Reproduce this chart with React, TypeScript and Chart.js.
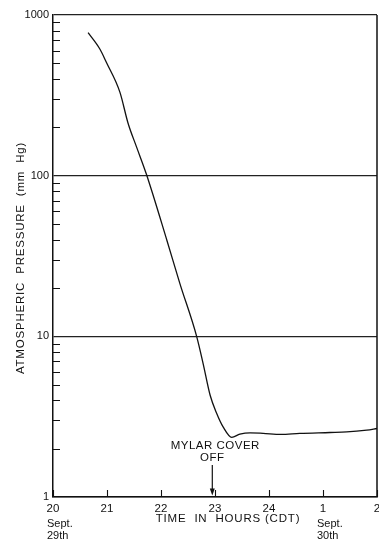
import { useEffect, useRef } from "react";
import { Chart, registerables } from "chart.js";

Chart.register(...registerables);

// Chamber pressure record, evening of Sept. 29th into Sept. 30th
const hours = [
  20.65, 20.87, 20.99, 21.24, 21.39, 21.55, 21.73, 22.11, 22.35, 22.66, 22.78,
  22.91, 23.03, 23.15, 23.31, 23.46, 23.65, 23.89, 24.22, 24.57, 25.13, 25.44,
  25.81, 26.0,
];
const pressure = [
  776, 612, 506, 330, 212, 150, 102, 39.5, 21.3, 10, 6.77, 4.3, 3.32, 2.73,
  2.35, 2.46, 2.51, 2.49, 2.45, 2.49, 2.52, 2.54, 2.61, 2.67,
];

const xTickValues = [20, 21, 22, 23, 24, 25, 26];
const xTickLabels = ["20", "21", "22", "23", "24", "1", "2"];
const yMajorValues = [1, 10, 100, 1000];
const yMinorValues = [
  2, 3, 4, 5, 6, 7, 8, 9, 20, 30, 40, 50, 60, 70, 80, 90, 200, 300, 400, 500,
  600, 700, 800, 900,
];
const dateLabels = [
  { hour: 20, lines: ["Sept.", "29th"] },
  { hour: 25, lines: ["Sept.", "30th"] },
];
const coverOffHour = 22.95;
const arrowFrom = 1.58;
const arrowTo = 1.02;
const coverOffText = ["MYLAR COVER", "OFF"];
const xTitle = "TIME  IN  HOURS (CDT)";
const yTitle = "ATMOSPHERIC  PRESSURE  (mm  Hg)";

const FONT = '"Liberation Sans", Arial, sans-serif';

const decorations = {
  id: "decorations",
  afterDraw(chart: any) {
    const { ctx, chartArea } = chart;
    const xs = chart.scales.x;
    const ys = chart.scales.y;
    ctx.save();
    ctx.strokeStyle = "#111";
    ctx.fillStyle = "#111";

    // right frame edge
    ctx.lineWidth = 1.5;
    ctx.beginPath();
    ctx.moveTo(chartArea.right, chartArea.top);
    ctx.lineTo(chartArea.right, chartArea.bottom);
    ctx.stroke();

    // inward minor ticks on the pressure axis
    ctx.lineWidth = 1.1;
    ctx.beginPath();
    for (const v of yMinorValues) {
      const y = Math.round(ys.getPixelForValue(v)) + 0.5;
      ctx.moveTo(chartArea.left, y);
      ctx.lineTo(chartArea.left + 7, y);
    }
    // inward hour ticks
    for (const h of xTickValues) {
      const x = Math.round(xs.getPixelForValue(h)) + 0.5;
      ctx.moveTo(x, chartArea.bottom);
      ctx.lineTo(x, chartArea.bottom - 7);
    }
    ctx.stroke();

    // cover-off arrow
    const ax = xs.getPixelForValue(coverOffHour);
    const ay0 = ys.getPixelForValue(arrowFrom);
    const ay1 = ys.getPixelForValue(arrowTo);
    ctx.lineWidth = 1.2;
    ctx.beginPath();
    ctx.moveTo(ax, ay0);
    ctx.lineTo(ax, ay1 - 5);
    ctx.stroke();
    ctx.beginPath();
    ctx.moveTo(ax - 2.5, ay1 - 7);
    ctx.lineTo(ax + 2.5, ay1 - 7);
    ctx.lineTo(ax, ay1);
    ctx.closePath();
    ctx.fill();

    ctx.font = `11.5px ${FONT}`;
    ctx.textAlign = "center";
    ctx.textBaseline = "middle";
    (ctx as any).letterSpacing = "0.5px";
    ctx.fillText(coverOffText[0], ax + 3, ay0 - 19);
    ctx.fillText(coverOffText[1], ax, ay0 - 7.5);

    // date notes under the hour labels
    ctx.font = `11px ${FONT}`;
    ctx.textAlign = "left";
    (ctx as any).letterSpacing = "0px";
    for (const d of dateLabels) {
      const x = xs.getPixelForValue(d.hour) - 6;
      ctx.fillText(d.lines[0], x, chartArea.bottom + 27);
      ctx.fillText(d.lines[1], x, chartArea.bottom + 38.5);
    }

    // axis titles
    ctx.font = `11.5px ${FONT}`;
    ctx.textAlign = "center";
    (ctx as any).letterSpacing = "0.8px";
    ctx.fillText(xTitle, 228, chartArea.bottom + 22);

    ctx.save();
    ctx.translate(21, (chartArea.top + chartArea.bottom) / 2 + 2);
    ctx.rotate(-Math.PI / 2);
    ctx.fillText(yTitle, 0, 0);
    ctx.restore();

    ctx.restore();
  },
};

export default function App() {
  const canvasRef = useRef<HTMLCanvasElement | null>(null);

  useEffect(() => {
    const canvas = canvasRef.current;
    if (!canvas) return;
    const chart = new Chart(canvas, {
      type: "line",
      data: {
        datasets: [
          {
            data: hours.map((h, i) => ({ x: h, y: pressure[i] })),
            borderColor: "#111",
            borderWidth: 1.3,
            pointRadius: 0,
            cubicInterpolationMode: "monotone",
            fill: false,
          },
        ],
      },
      options: {
        animation: false,
        responsive: false,
        devicePixelRatio: 1,
        layout: { padding: { top: 15, right: 2, left: 0, bottom: 0 } },
        plugins: {
          legend: { display: false },
          tooltip: { enabled: false },
          title: { display: false },
        },
        scales: {
          x: {
            type: "linear",
            min: 20,
            max: 26,
            afterBuildTicks: (scale: any) => {
              scale.ticks = xTickValues.map((v) => ({ value: v }));
            },
            afterFit: (scale: any) => {
              scale.height = 47;
              scale.paddingLeft = 0;
              scale.paddingRight = 0;
            },
            ticks: {
              autoSkip: false,
              maxRotation: 0,
              padding: 5,
              color: "#111",
              font: { family: FONT, size: 11.5 },
              callback: (v: any) => {
                const i = xTickValues.indexOf(Number(v));
                return i >= 0 ? xTickLabels[i] : "";
              },
            },
            grid: { display: false, drawTicks: false },
            border: { display: true, color: "#111", width: 1.5 },
          },
          y: {
            type: "logarithmic",
            min: 1,
            max: 1000,
            afterBuildTicks: (scale: any) => {
              scale.ticks = [...yMajorValues, ...yMinorValues]
                .sort((a, b) => a - b)
                .map((v) => ({ value: v }));
            },
            afterFit: (scale: any) => {
              scale.width = 53;
              scale.paddingTop = 0;
              scale.paddingBottom = 0;
            },
            ticks: {
              autoSkip: false,
              padding: 4,
              color: "#111",
              font: { family: FONT, size: 11 },
              callback: (v: any) =>
                yMajorValues.includes(Number(v)) ? String(v) : "",
            },
            grid: {
              drawTicks: false,
              lineWidth: 1.3,
              color: (c: any) =>
                c.tick && yMajorValues.includes(c.tick.value)
                  ? "#222"
                  : "rgba(0,0,0,0)",
            },
            border: { display: true, color: "#111", width: 1.5 },
          },
        },
      },
      plugins: [decorations],
    } as any);
    return () => chart.destroy();
  }, []);

  return (
    <div
      style={{
        position: "fixed",
        left: 0,
        top: 0,
        width: 379,
        height: 544,
        background: "#fff",
      }}
    >
      <canvas ref={canvasRef} width={379} height={544} />
    </div>
  );
}
